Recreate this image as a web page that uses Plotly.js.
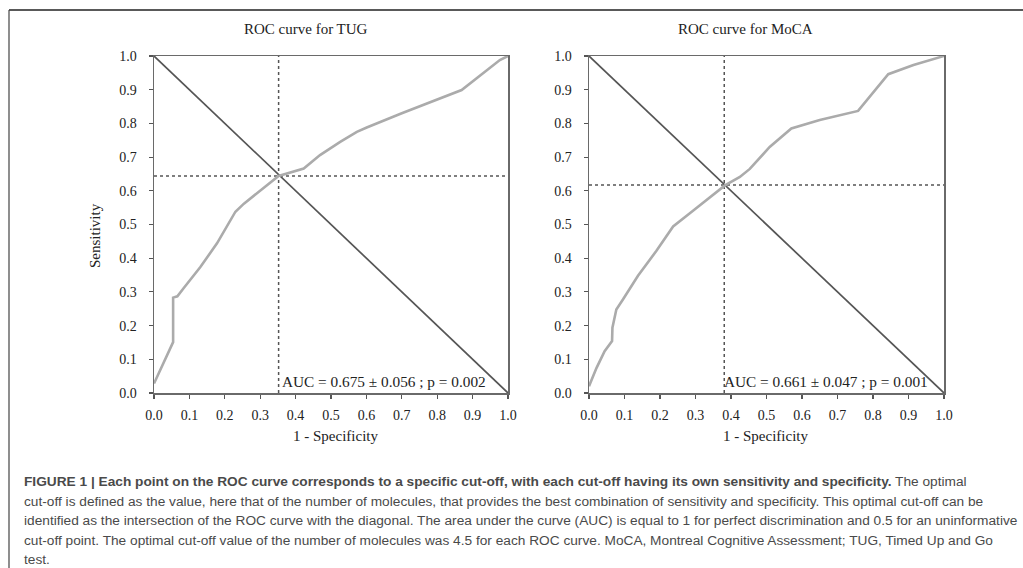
<!DOCTYPE html>
<html>
<head>
<meta charset="utf-8">
<script src="https://cdn.plot.ly/plotly-3.0.1.min.js"></script>
<style>
html,body{margin:0;padding:0;background:#fff;}
#chart{width:1023px;height:568px;}
</style>
</head>
<body>
<div id="chart"></div>
<script>
// ---- Data ----
const tugFpr = [0, 0.054, 0.054, 0.066, 0.083, 0.131, 0.178, 0.230, 0.254, 0.300, 0.352, 0.423, 0.469, 0.526, 0.573, 0.601, 0.700, 0.869, 0.977, 1.0];
const tugTpr = [0.028, 0.151, 0.283, 0.287, 0.310, 0.374, 0.444, 0.538, 0.562, 0.600, 0.644, 0.666, 0.706, 0.745, 0.775, 0.788, 0.830, 0.899, 0.988, 1.0];
const mocaFpr = [0, 0.021, 0.044, 0.065, 0.066, 0.077, 0.096, 0.138, 0.190, 0.237, 0.293, 0.383, 0.425, 0.453, 0.509, 0.570, 0.650, 0.758, 0.843, 0.914, 1.0];
const mocaTpr = [0.020, 0.074, 0.124, 0.154, 0.194, 0.248, 0.278, 0.348, 0.422, 0.494, 0.541, 0.616, 0.641, 0.665, 0.730, 0.785, 0.810, 0.837, 0.946, 0.973, 1.0];
const diagX = [0, 1];
const diagY = [1, 0];
const tugCut = {x: 0.352, y: 0.644};
const mocaCut = {x: 0.381, y: 0.617};
const tugAUC = "AUC = 0.675 ± 0.056 ; p = 0.002";
const mocaAUC = "AUC = 0.661 ± 0.047 ; p = 0.001";
const titles = ["ROC curve for TUG", "ROC curve for MoCA"];
const xTitle = "1 - Specificity";
const yTitle = "Sensitivity";
const tickVals = [0,0.1,0.2,0.3,0.4,0.5,0.6,0.7,0.8,0.9,1.0];
const tickText = ["0.0","0.1","0.2","0.3","0.4","0.5","0.6","0.7","0.8","0.9","1.0"];
const captionLines = [
  "<b>FIGURE 1 | Each point on the ROC curve corresponds to a specific cut-off, with each cut-off having its own sensitivity and specificity.</b> The optimal",
  "cut-off is defined as the value, here that of the number of molecules, that provides the best combination of sensitivity and specificity. This optimal cut-off can be",
  "identified as the intersection of the ROC curve with the diagonal. The area under the curve (AUC) is equal to 1 for perfect discrimination and 0.5 for an uninformative",
  "cut-off point. The optimal cut-off value of the number of molecules was 4.5 for each ROC curve. MoCA, Montreal Cognitive Assessment; TUG, Timed Up and Go",
  "test."
];

const W = 1023, H = 568;
const px = v => v / W;
const py = v => 1 - v / H;

const serif = "Liberation Serif, Times New Roman, serif";
const rocColor = "#ababab";
const darkLine = "#555555";

function panelTraces(fpr, tpr, cut, xa, ya) {
  return [
    {x: diagX, y: diagY, xaxis: xa, yaxis: ya, mode: "lines", line: {color: darkLine, width: 1.7}, hoverinfo: "skip"},
    {x: [cut.x, cut.x], y: [0, 1], xaxis: xa, yaxis: ya, mode: "lines", line: {color: darkLine, width: 1.5, dash: "dot"}, hoverinfo: "skip"},
    {x: [0, 1], y: [cut.y, cut.y], xaxis: xa, yaxis: ya, mode: "lines", line: {color: darkLine, width: 1.5, dash: "dot"}, hoverinfo: "skip"},
    {x: fpr, y: tpr, xaxis: xa, yaxis: ya, mode: "lines", line: {color: rocColor, width: 2.6}, hoverinfo: "skip"}
  ];
}

const data = [
  ...panelTraces(tugFpr, tugTpr, tugCut, "x", "y"),
  ...panelTraces(mocaFpr, mocaTpr, mocaCut, "x2", "y2")
];

function axis(domain, anchor, standoff) {
  return {
    domain: domain, anchor: anchor, range: [0, 1],
    tickvals: tickVals, ticktext: tickText,
    ticks: "outside", ticklen: 4, tickwidth: 1.2, tickcolor: darkLine,
    ticklabelstandoff: standoff,
    showline: true, linecolor: "#6a6a6a", linewidth: 1.5, mirror: true,
    showgrid: false, zeroline: false, fixedrange: true,
    tickfont: {family: serif, size: 14, color: "#222"}
  };
}

const yDom = [py(393), py(56)];
const txt = {family: serif, size: 15, color: "#222"};
function note(text, x, y, extra) {
  return Object.assign({text: text, xref: "paper", yref: "paper", x: px(x), y: py(y),
    xanchor: "center", yanchor: "middle", showarrow: false, font: txt}, extra || {});
}

const layout = {
  width: W, height: H,
  margin: {l: 0, r: 0, t: 0, b: 0},
  paper_bgcolor: "#fff", plot_bgcolor: "#fff",
  showlegend: false,
  xaxis: axis([px(154), px(508)], "y", 5),
  yaxis: axis(yDom, "x", 9),
  xaxis2: axis([px(589), px(944)], "y2", 5),
  yaxis2: axis(yDom, "x2", 9),
  shapes: [
    {type: "line", xref: "paper", yref: "paper", x0: px(9), x1: 1, y0: py(10), y1: py(10), line: {color: "#222", width: 1.5}},
    {type: "line", xref: "paper", yref: "paper", x0: px(9), x1: px(9), y0: py(10), y1: 0, line: {color: "#444", width: 1.2}}
  ],
  annotations: [
    note(titles[0], 306, 29),
    note(titles[1], 745, 29),
    note(xTitle, 335, 436),
    note(xTitle, 765, 436),
    note(yTitle, 95, 236, {textangle: -90}),
    {text: tugAUC, xref: "x", yref: "y", x: 0.355, y: 0.035, xanchor: "left", yanchor: "middle", showarrow: false, font: {family: serif, size: 15.3, color: "#222"}},
    {text: mocaAUC, xref: "x2", yref: "y2", x: 0.374, y: 0.035, xanchor: "left", yanchor: "middle", showarrow: false, font: {family: serif, size: 15.3, color: "#222"}},
    ...captionLines.map((t, i) => ({
      text: t, xref: "paper", yref: "paper", x: px(22), y: py(481.5 + i * 19.6),
      xanchor: "left", yanchor: "middle", showarrow: false, align: "left",
      font: {family: "Liberation Sans, Arial, sans-serif", size: 13.7, color: "#4a4a4a"}
    }))
  ]
};

Plotly.newPlot("chart", data, layout, {displayModeBar: false, staticPlot: true});
</script>
</body>
</html>
